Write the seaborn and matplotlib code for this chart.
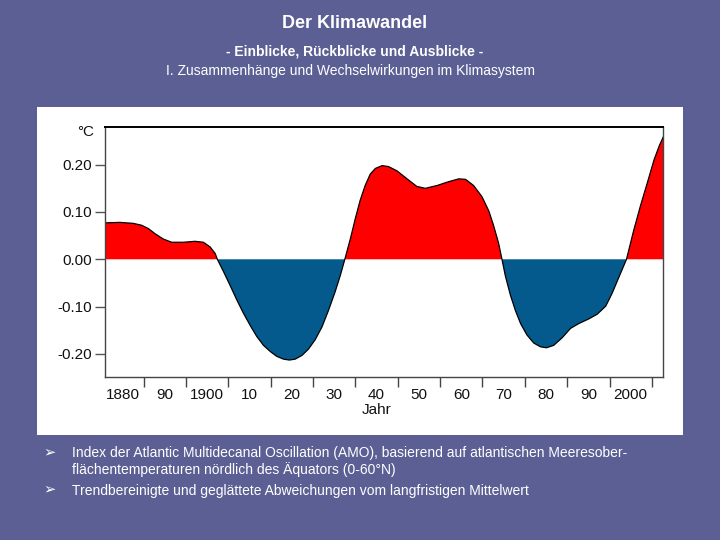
import numpy as np
import matplotlib
matplotlib.use("Agg")
import matplotlib.pyplot as plt
from matplotlib.patches import Rectangle
import seaborn as sns

# AMO index (year, deviation in degC)
years = np.array([
    1875.8, 1879.4, 1882.5, 1884.5, 1886.1, 1887.7, 1889.6, 1891.6, 1894.4,
    1897.1, 1899.1, 1900.7, 1901.9, 1902.4, 1903.8, 1905.4, 1907.0, 1908.5,
    1910.1, 1911.7, 1913.3, 1914.9, 1916.4, 1918.0, 1919.4, 1920.8, 1922.4,
    1923.9, 1925.5, 1927.1, 1928.6, 1930.2, 1931.4, 1932.5, 1933.8, 1935.0,
    1936.1, 1937.3, 1938.5, 1939.7, 1941.3, 1942.8, 1944.8, 1947.2, 1949.5,
    1951.5, 1954.3, 1957.0, 1959.4, 1961.0, 1962.9, 1964.9, 1966.5, 1967.6,
    1968.8, 1969.6, 1970.4, 1971.6, 1972.8, 1974.0, 1975.5, 1977.1, 1978.7,
    1980.1, 1981.8, 1983.8, 1985.8, 1987.7, 1990.1, 1992.1, 1994.1, 1995.6,
    1997.2, 1999.0, 2000.7, 2002.3, 2003.9, 2005.5, 2006.7, 2007.7,
])
amo = np.array([
    0.077, 0.078, 0.076, 0.072, 0.065, 0.054, 0.043, 0.036, 0.036,
    0.038, 0.036, 0.026, 0.012, 0.000, -0.025, -0.055, -0.086, -0.113,
    -0.139, -0.163, -0.182, -0.195, -0.205, -0.211, -0.213, -0.211, -0.203,
    -0.190, -0.170, -0.143, -0.109, -0.069, -0.035, 0.000, 0.043, 0.087,
    0.124, 0.156, 0.180, 0.192, 0.198, 0.196, 0.187, 0.170, 0.154,
    0.150, 0.156, 0.164, 0.170, 0.169, 0.156, 0.132, 0.102, 0.072,
    0.034, 0.000, -0.035, -0.076, -0.109, -0.136, -0.160, -0.177, -0.185,
    -0.187, -0.182, -0.166, -0.146, -0.136, -0.126, -0.116, -0.099, -0.072,
    -0.038, 0.000, 0.061, 0.113, 0.161, 0.210, 0.239, 0.259,
])

label_years = list(range(1880, 2001, 10))
label_texts = ["1880", "90", "1900", "10", "20", "30", "40", "50", "60",
               "70", "80", "90", "2000"]
tick_years = list(range(1885, 2006, 10))
y_ticks = [0.2, 0.1, 0.0, -0.1, -0.2]
y_texts = ["0.20", "0.10", "0.00", "-0.10", "-0.20"]

title = "Der Klimawandel"
subtitle = "- Einblicke, Rückblicke und Ausblicke -"
section = "I. Zusammenhänge und Wechselwirkungen im Klimasystem"
bullets = [
    "Index der Atlantic Multidecanal Oscillation (AMO), basierend auf atlantischen Meeresober-\n"
    "flächentemperaturen nördlich des Äquators (0-60°N)",
    "Trendbereinigte und geglättete Abweichungen vom langfristigen Mittelwert",
]

sns.set_style("white")
plt.rcParams['font.family'] = ['Liberation Sans', 'DejaVu Sans']

bg = '#5b5f94'
fig = plt.figure(figsize=(7.2, 5.4), dpi=100, facecolor=bg)

# white card behind the chart
fig.add_artist(Rectangle((0.0514, 0.1944), 0.897, 0.608, transform=fig.transFigure,
                         facecolor='white', edgecolor='none', zorder=0))

ax = fig.add_axes([0.1454, 0.3024, 0.7759, 0.463])
ax.set_facecolor('white')

ax.fill_between(years, amo, 0, where=amo >= 0, interpolate=True,
                color='#ff0000', lw=0)
ax.fill_between(years, amo, 0, where=amo <= 0, interpolate=True,
                color='#045a8d', lw=0)
sns.lineplot(x=years, y=amo, color='black', lw=0.9, ax=ax, sort=False)

ax.set_xlim(1875.8, 2007.7)
ax.set_ylim(-0.2482, 0.2803)

ax.set_xticks(label_years)
ax.set_xticklabels(label_texts)
ax.set_xticks(tick_years, minor=True)
ax.set_yticks(y_ticks)
ax.set_yticklabels(y_texts)

ax.tick_params(axis='x', which='major', length=0, pad=8, labelsize=11,
               labelcolor='#111111')
ax.tick_params(axis='x', which='minor', length=7, width=1, color='#444444',
               direction='out', bottom=True)
ax.tick_params(axis='y', which='major', length=7, width=1, color='#555555',
               direction='out', left=True, pad=2, labelsize=11,
               labelcolor='#111111')

for side in ['left', 'bottom', 'right']:
    ax.spines[side].set_color('#444444')
    ax.spines[side].set_linewidth(1.0)
ax.spines['top'].set_color('black')
ax.spines['top'].set_linewidth(1.4)

ax.set_xlabel("Jahr", fontsize=11, color='#111111', labelpad=1)
ax.xaxis.set_label_coords(0.4875, -0.105)
ax.set_ylabel("")
fig.text(94 / 720, 1 - 132 / 540, "°C", ha='right', va='center',
         fontsize=11, color='#111111')

# slide header
fig.text(355 / 720, 1 - 23 / 540, title, ha='center', va='center',
         fontsize=13, weight='bold', color='white')
fig.text(355 / 720, 1 - 51.5 / 540, subtitle, ha='center', va='center',
         fontsize=10, weight='bold', color='white')
fig.text(351 / 720, 1 - 71.5 / 540, section, ha='center', va='center',
         fontsize=10, color='white')

# bullet list under the card
bullet_y = [452, 489]
for text, yy in zip(bullets, bullet_y):
    fig.text(43 / 720, 1 - yy / 540, "➢", ha='left', va='center',
             fontsize=10.5, color='white')
    fig.text(72 / 720, 1 - (yy - 5.5) / 540, text, ha='left', va='top',
             fontsize=10, color='white', linespacing=1.15)

fig.savefig("out.png", dpi=100, facecolor=fig.get_facecolor())
